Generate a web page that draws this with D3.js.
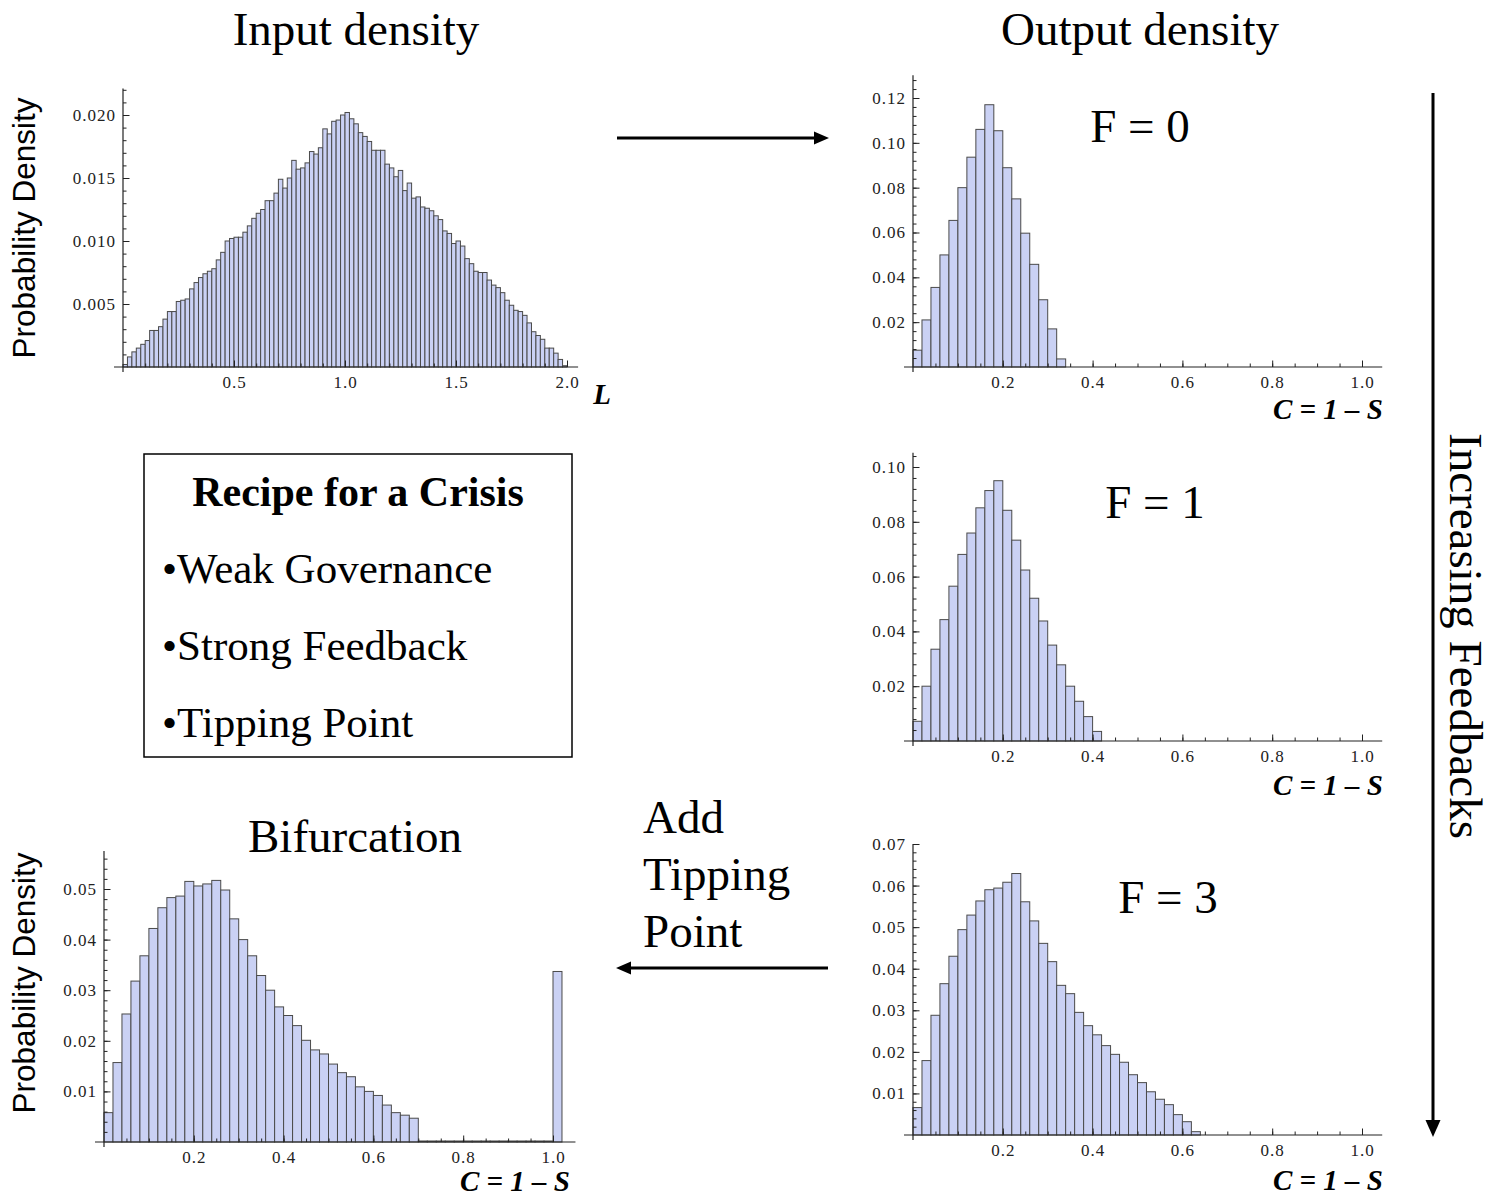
<!DOCTYPE html>
<html>
<head>
<meta charset="utf-8">
<script src="https://cdn.jsdelivr.net/npm/d3@7"></script>
<style>
  body { margin: 0; background: #fff; }
  svg { display: block; }
</style>
</head>
<body>
<svg id="chart" width="1495" height="1197"></svg>
<script>
// histogram heights (probability per bin)
const inputDensity = [
  0.0002, 0.0008, 0.0012, 0.0015, 0.0018, 0.0021, 0.0029, 0.0029, 0.0032, 0.0038,
  0.0044, 0.0044, 0.0052, 0.0053, 0.0054, 0.0062, 0.0067, 0.0071, 0.0074, 0.0076,
  0.0078, 0.0085, 0.0091, 0.0100, 0.0102, 0.0103, 0.0103, 0.0107, 0.0112, 0.0118,
  0.0122, 0.0125, 0.0132, 0.0132, 0.0138, 0.0149, 0.0142, 0.0150, 0.0164, 0.0157,
  0.0158, 0.0162, 0.0171, 0.0169, 0.0174, 0.0189, 0.0185, 0.0195, 0.0196, 0.0200,
  0.0202, 0.0197, 0.0193, 0.0186, 0.0183, 0.0179, 0.0172, 0.0172, 0.0172, 0.0161,
  0.0158, 0.0151, 0.0156, 0.0140, 0.0146, 0.0134, 0.0135, 0.0127, 0.0126, 0.0124,
  0.0120, 0.0117, 0.0108, 0.0106, 0.0098, 0.0100, 0.0096, 0.0086, 0.0082, 0.0076,
  0.0075, 0.0075, 0.0069, 0.0065, 0.0063, 0.0059, 0.0053, 0.0049, 0.0045, 0.0044,
  0.0041, 0.0035, 0.0028, 0.0025, 0.0022, 0.0015, 0.0015, 0.0011, 0.0006, 0.0001
];
const outputF0 = [
  0.0075, 0.0210, 0.0355, 0.0500, 0.0654, 0.0800, 0.0936, 0.1060, 0.1170, 0.1054,
  0.0889, 0.0750, 0.0597, 0.0458, 0.0300, 0.0170, 0.0036
];
const outputF1 = [
  0.0072, 0.0200, 0.0335, 0.0443, 0.0565, 0.0681, 0.0759, 0.0851, 0.0914, 0.0950,
  0.0842, 0.0733, 0.0624, 0.0521, 0.0438, 0.0350, 0.0278, 0.0200, 0.0145, 0.0089,
  0.0035
];
const outputF3 = [
  0.0066, 0.0179, 0.0288, 0.0364, 0.0430, 0.0494, 0.0529, 0.0563, 0.0590, 0.0594,
  0.0608, 0.0629, 0.0561, 0.0515, 0.0461, 0.0417, 0.0360, 0.0340, 0.0295, 0.0263,
  0.0241, 0.0215, 0.0194, 0.0175, 0.0145, 0.0126, 0.0104, 0.0086, 0.0073, 0.0049,
  0.0032, 0.0008
];
const bifurcation = [
  0.0058, 0.0157, 0.0253, 0.0318, 0.0368, 0.0422, 0.0463, 0.0483, 0.0486, 0.0515,
  0.0506, 0.0510, 0.0517, 0.0498, 0.0441, 0.0400, 0.0368, 0.0329, 0.0300, 0.0267,
  0.0250, 0.0230, 0.0201, 0.0182, 0.0174, 0.0154, 0.0137, 0.0129, 0.0109, 0.0100,
  0.0092, 0.0073, 0.0058, 0.0053, 0.0047,
  0.0002, 0.0002, 0.0002, 0.0002, 0.0002, 0.0002, 0.0002, 0.0002, 0.0002, 0.0002,
  0.0002, 0.0002, 0.0002, 0.0002, 0.0002,
  0.0337
];

const binWidth = 0.02;

// tick labels
const inputXTicks = [0.5, 1.0, 1.5, 2.0];
const inputYTicks = [0.005, 0.010, 0.015, 0.020];
const outputXTicks = [0.2, 0.4, 0.6, 0.8, 1.0];
const f0YTicks = [0.02, 0.04, 0.06, 0.08, 0.10, 0.12];
const f1YTicks = [0.02, 0.04, 0.06, 0.08, 0.10];
const f3YTicks = [0.01, 0.02, 0.03, 0.04, 0.05, 0.06, 0.07];
const bifYTicks = [0.01, 0.02, 0.03, 0.04, 0.05];

const recipeLines = ["•Weak Governance", "•Strong Feedback", "•Tipping Point"];
const tippingLines = ["Add", "Tipping", "Point"];

const svg = d3.select("#chart");
svg.append("rect").attr("width", 1495).attr("height", 1197).attr("fill", "#fff");

const serif = "'Liberation Serif', 'Times New Roman', serif";
const sans = "'Liberation Sans', Arial, sans-serif";

function drawHist(p) {
  const x = d3.scaleLinear().domain(p.xDomain).range(p.xRange);
  const y = d3.scaleLinear().domain(p.yDomain).range(p.yRange);
  const g = svg.append("g");

  g.selectAll("rect")
    .data(p.data)
    .join("rect")
    .attr("x", (d, i) => x(i * binWidth))
    .attr("width", (d, i) => x((i + 1) * binWidth) - x(i * binWidth))
    .attr("y", d => y(d))
    .attr("height", d => y(0) - y(d))
    .attr("fill", "#cad1f4")
    .attr("stroke", "#4a4a4a")
    .attr("stroke-width", 1);

  // minor ticks
  const yMinor = d3.range(p.yMinor, p.yTop, p.yMinor);
  const xMinor = d3.range(p.xMinor, p.xRight, p.xMinor);
  g.append("g")
    .attr("transform", `translate(${x(0)},0)`)
    .call(d3.axisLeft(y).tickValues(yMinor).tickFormat("").tickSizeInner(-3.5).tickSizeOuter(0))
    .call(a => a.select(".domain").remove());
  g.append("g")
    .attr("transform", `translate(0,${y(0)})`)
    .call(d3.axisBottom(x).tickValues(xMinor).tickFormat("").tickSizeInner(-3.5).tickSizeOuter(0))
    .call(a => a.select(".domain").remove());

  // major ticks + labels
  const yAx = g.append("g")
    .attr("transform", `translate(${x(0)},0)`)
    .call(d3.axisLeft(y).tickValues(p.yTicks).tickFormat(d3.format(p.yFmt)).tickSizeInner(-6.5).tickSizeOuter(0).tickPadding(7));
  const xAx = g.append("g")
    .attr("transform", `translate(0,${y(0)})`)
    .call(d3.axisBottom(x).tickValues(p.xTicks).tickFormat(d3.format(".1f")).tickSizeInner(-6.5).tickSizeOuter(0).tickPadding(9));
  [yAx, xAx].forEach(a => {
    a.select(".domain").remove();
    a.selectAll("text")
      .attr("font-family", serif)
      .attr("font-size", 17)
      .attr("letter-spacing", 1)
      .attr("fill", "#222");
  });
  g.selectAll(".tick line").attr("stroke", "#222");

  // axis lines
  g.append("line")
    .attr("x1", x(0)).attr("x2", x(0))
    .attr("y1", y(0) + 5).attr("y2", y(p.yTop))
    .attr("stroke", "#222").attr("stroke-width", 1.2);
  g.append("line")
    .attr("x1", x(0) - 9).attr("x2", x(p.xRight))
    .attr("y1", y(0)).attr("y2", y(0))
    .attr("stroke", "#222").attr("stroke-width", 1.2);

  // axis label
  g.append("text")
    .attr("x", p.labelX).attr("y", p.labelY)
    .attr("text-anchor", "end")
    .attr("font-family", serif)
    .attr("font-weight", "bold")
    .attr("font-style", "italic")
    .attr("font-size", 29)
    .text(p.label);
}

drawHist({
  data: inputDensity, xDomain: [0, 2], xRange: [123, 567], yDomain: [0, 0.02], yRange: [367, 115],
  yTop: 0.0221, xRight: 2.05, yTicks: inputYTicks, yMinor: 0.001, xTicks: inputXTicks, xMinor: 0.1,
  yFmt: ".3f", label: "L", labelX: 611, labelY: 404
});
drawHist({
  data: outputF0, xDomain: [0, 1], xRange: [913, 1362], yDomain: [0, 0.12], yRange: [367, 98],
  yTop: 0.1302, xRight: 1.045, yTicks: f0YTicks, yMinor: 0.004, xTicks: outputXTicks, xMinor: 0.05,
  yFmt: ".2f", label: "C = 1 – S", labelX: 1383, labelY: 419
});
drawHist({
  data: outputF1, xDomain: [0, 1], xRange: [913, 1362], yDomain: [0, 0.10], yRange: [741, 467],
  yTop: 0.1052, xRight: 1.045, yTicks: f1YTicks, yMinor: 0.004, xTicks: outputXTicks, xMinor: 0.05,
  yFmt: ".2f", label: "C = 1 – S", labelX: 1383, labelY: 795
});
drawHist({
  data: outputF3, xDomain: [0, 1], xRange: [913, 1362], yDomain: [0, 0.07], yRange: [1135, 844],
  yTop: 0.07, xRight: 1.045, yTicks: f3YTicks, yMinor: 0.002, xTicks: outputXTicks, xMinor: 0.05,
  yFmt: ".2f", label: "C = 1 – S", labelX: 1383, labelY: 1190
});
drawHist({
  data: bifurcation, xDomain: [0, 1], xRange: [104, 553], yDomain: [0, 0.05], yRange: [1142, 889],
  yTop: 0.0575, xRight: 1.05, yTicks: bifYTicks, yMinor: 0.002, xTicks: outputXTicks, xMinor: 0.05,
  yFmt: ".2f", label: "C = 1 – S", labelX: 570, labelY: 1191
});

// titles
function title(t, x, y, size, anchor) {
  return svg.append("text")
    .attr("x", x).attr("y", y)
    .attr("text-anchor", anchor || "middle")
    .attr("font-family", serif)
    .attr("font-size", size)
    .attr("fill", "#000")
    .text(t);
}
title("Input density", 356, 45, 47);
title("Output density", 1140, 45, 47);
title("Bifurcation", 355, 852, 47);
title("F = 0", 1140, 142, 47);
title("F = 1", 1155, 518, 47);
title("F = 3", 1168, 913, 47);

// y axis titles
[[228], [983]].forEach(([cy]) => {
  svg.append("text")
    .attr("transform", `translate(35,${cy}) rotate(-90)`)
    .attr("text-anchor", "middle")
    .attr("font-family", sans)
    .attr("font-size", 31.5)
    .text("Probability Density");
});

// recipe box
svg.append("rect")
  .attr("x", 144).attr("y", 454).attr("width", 428).attr("height", 303)
  .attr("fill", "none").attr("stroke", "#000").attr("stroke-width", 1.5);
svg.append("text")
  .attr("x", 358).attr("y", 506)
  .attr("text-anchor", "middle")
  .attr("font-family", serif)
  .attr("font-weight", "bold")
  .attr("font-size", 42)
  .text("Recipe for a Crisis");
recipeLines.forEach((t, i) => title(t, 162, 583 + i * 77, 43, "start"));

// "Add Tipping Point"
tippingLines.forEach((t, i) => title(t, 643, 833 + i * 57, 47, "start"));

// arrows
function arrow(x1, y1, x2, y2, w, headLen, headW) {
  const ang = Math.atan2(y2 - y1, x2 - x1);
  const bx = x2 - headLen * Math.cos(ang), by = y2 - headLen * Math.sin(ang);
  svg.append("line")
    .attr("x1", x1).attr("y1", y1).attr("x2", bx).attr("y2", by)
    .attr("stroke", "#000").attr("stroke-width", w);
  const px = -Math.sin(ang) * headW / 2, py = Math.cos(ang) * headW / 2;
  svg.append("path")
    .attr("d", `M${x2},${y2}L${bx + px},${by + py}L${bx - px},${by - py}Z`)
    .attr("fill", "#000");
}
arrow(617, 138, 829, 138, 3, 15, 13);
arrow(828, 968, 616, 968, 3, 15, 13);
arrow(1433, 93, 1433, 1137, 3, 17, 15);

svg.append("text")
  .attr("transform", "translate(1450,636) rotate(90)")
  .attr("text-anchor", "middle")
  .attr("font-family", serif)
  .attr("font-size", 47)
  .text("Increasing Feedbacks");
</script>
</body>
</html>
